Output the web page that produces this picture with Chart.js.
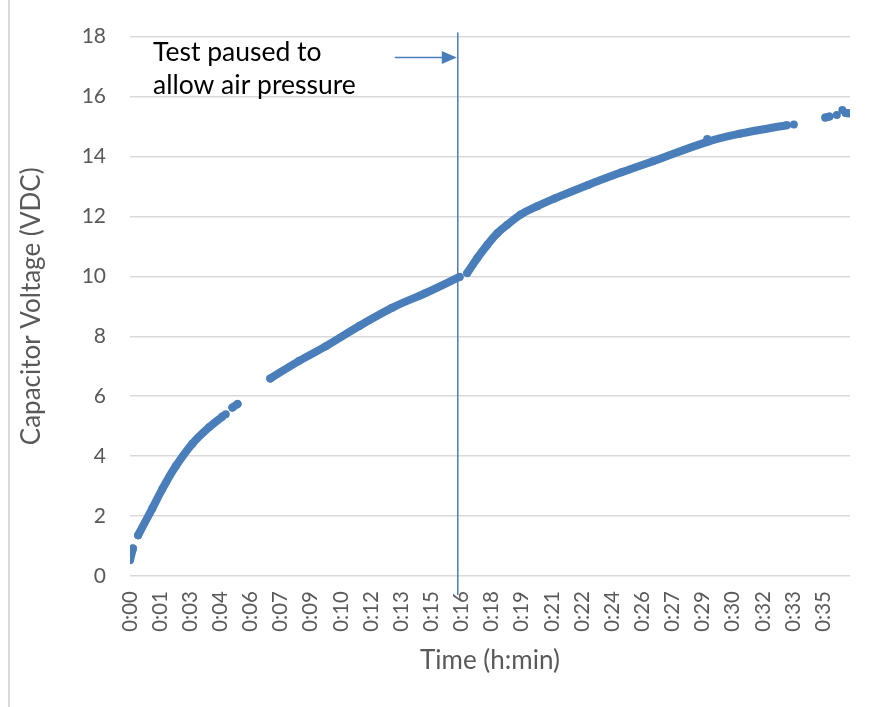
<!DOCTYPE html>
<html><head><meta charset="utf-8">
<script src="https://cdn.jsdelivr.net/npm/chart.js@4"></script>
<style>
html,body{margin:0;padding:0;background:#fff;}
#wrap{position:relative;width:870px;height:707px;}
#edge{position:absolute;left:8px;top:0;width:2px;height:707px;background:#d9d9d9;}
canvas{position:absolute;left:0;top:0;}
</style></head><body>
<div id="wrap"><canvas id="c" width="870" height="707"></canvas><div id="edge"></div></div>
<script>
// Time in minutes; null marks a gap between recorded segments
const timeMin = [0, 0.15, null,
  0.41, 1.13, 1.64, 2.32, 3.16, 4.01, 4.69, null,
  5.2, 5.46, null,
  7.12, 8.59, 9.95, 11.64, 13.3, 15.03, 16.73, null,
  17.12, 17.63, 18.14, 18.65, 19.15, 19.83, 20.68, 21.56, 23.25, 24.95, 26.55, 29.27, 30.96, 33.34, null,
  35.3, 35.5, null,
  36.33, 36.47];
const voltage = [0.53, 0.92, null,
  1.36, 2.25, 2.9, 3.66, 4.41, 4.96, 5.32, null,
  5.62, 5.74, null,
  6.59, 7.18, 7.67, 8.34, 8.95, 9.45, 9.98, null,
  10.11, 10.61, 11.05, 11.44, 11.72, 12.06, 12.34, 12.6, 13.05, 13.47, 13.84, 14.48, 14.76, 15.04, null,
  15.3, 15.33, null,
  15.45, 15.44];
// isolated samples
const dotTimeMin = [4.86, 29.3, 33.7, 35.88, 36.16];
const dotVoltage = [5.4, 14.58, 15.07, 15.38, 15.55];

const xTickStep = 1.53;
const xMax = 36.55;
const xTickLabels = ['0:00','0:01','0:03','0:04','0:06','0:07','0:09','0:10','0:12','0:13','0:15','0:16',
  '0:18','0:19','0:21','0:22','0:24','0:26','0:27','0:29','0:30','0:32','0:33','0:35'];
const yTickLabels = ['0','2','4','6','8','10','12','14','16','18'];
const pauseTimeMin = 16.64;
const noteLines = ['Test paused to', 'allow air pressure'];
const xTitle = 'Time (h:min)';
const yTitle = 'Capacitor Voltage (VDC)';

const C = '#4a7ebb';
const FONT = 'Lato';

const notePlugin = {
  id: 'note',
  afterDatasetsDraw(chart) {
    const {ctx, chartArea, scales: {x}} = chart;
    const px = x.getPixelForValue(pauseTimeMin);
    ctx.save();
    ctx.strokeStyle = C;
    ctx.lineWidth = 1.5;
    ctx.beginPath();
    ctx.moveTo(px, chartArea.top - 4);
    ctx.lineTo(px, chartArea.bottom + 19);
    ctx.stroke();
    const ay = chartArea.top + 21;
    ctx.beginPath();
    ctx.moveTo(px - 63, ay);
    ctx.lineTo(px - 14, ay);
    ctx.stroke();
    ctx.fillStyle = C;
    ctx.beginPath();
    ctx.moveTo(px - 1, ay);
    ctx.lineTo(px - 16, ay - 6.5);
    ctx.lineTo(px - 16, ay + 6.5);
    ctx.closePath();
    ctx.fill();
    ctx.fillStyle = '#000';
    ctx.font = '26.5px ' + FONT;
    ctx.textAlign = 'left';
    ctx.textBaseline = 'alphabetic';
    ctx.fillText(noteLines[0], chartArea.left + 23, chartArea.top + 24);
    ctx.fillText(noteLines[1], chartArea.left + 23, chartArea.top + 57);
    ctx.restore();
  }
};

new Chart(document.getElementById('c'), {
  type: 'scatter',
  data: {
    datasets: [
      {
        data: timeMin.map((t, i) => ({x: t, y: voltage[i]})),
        showLine: true,
        borderColor: C,
        backgroundColor: C,
        borderWidth: 8,
        pointRadius: 4,
        pointHoverRadius: 4,
        pointBorderWidth: 0,
        tension: 0.4,
        borderCapStyle: 'round',
        borderJoinStyle: 'round',
        spanGaps: false
      },
      {
        data: dotTimeMin.map((t, i) => ({x: t, y: dotVoltage[i]})),
        showLine: false,
        backgroundColor: C,
        borderColor: C,
        pointRadius: 4,
        pointHoverRadius: 4,
        pointBorderWidth: 0
      }
    ]
  },
  options: {
    responsive: false,
    animation: false,
    events: [],
    layout: {padding: {left: 0, right: 20, top: 34, bottom: 0}},
    plugins: {legend: {display: false}, tooltip: {enabled: false}},
    scales: {
      x: {
        type: 'linear',
        min: 0,
        max: xMax,
        grid: {display: false, drawTicks: false},
        border: {display: false},
        afterBuildTicks: s => { s.ticks = xTickLabels.map((l, i) => ({value: i * xTickStep})); },
        ticks: {
          autoSkip: false, minRotation: 90, maxRotation: 90, padding: 15,
          color: '#595959', font: {family: FONT, size: 20.5},
          callback: (v, i) => xTickLabels[i]
        },
        title: {display: true, text: xTitle, color: '#595959', font: {family: FONT, size: 26}, padding: {top: 0, bottom: 31}},
        afterFit: s => { s.height = 131; }
      },
      y: {
        min: 0,
        max: 18,
        ticks: {
          stepSize: 2, padding: 24, color: '#595959', font: {family: FONT, size: 21},
          callback: (v, i) => yTickLabels[i]
        },
        grid: {color: '#d9d9d9', lineWidth: 1.5, drawTicks: false},
        border: {display: false},
        title: {display: true, text: yTitle, color: '#595959', font: {family: FONT, size: 26}, padding: {top: 16, bottom: 0}},
        afterFit: s => { s.width = 130; }
      }
    }
  },
  plugins: [notePlugin]
});
</script>
</body></html>
